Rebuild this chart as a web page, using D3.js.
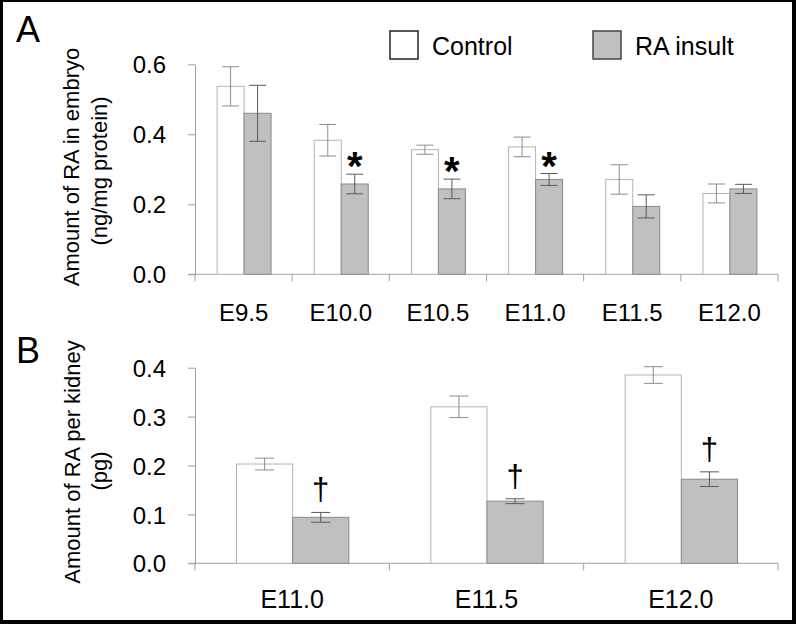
<!DOCTYPE html>
<html><head><meta charset="utf-8">
<script src="https://cdn.jsdelivr.net/npm/d3@7"></script>
<style>body{margin:0;background:#fff}svg text{font-family:"Liberation Sans",Arial,sans-serif;fill:#000}</style>
</head><body>
<svg id="c" width="796" height="624"></svg>
<script>
// Panel A data
const catsA = ["E9.5","E10.0","E10.5","E11.0","E11.5","E12.0"];
const controlA = [0.537,0.383,0.356,0.364,0.271,0.231];
const controlErrA = [0.056,0.045,0.013,0.028,0.042,0.027];
const raA = [0.460,0.258,0.244,0.271,0.194,0.244];
const raErrA = [0.080,0.028,0.028,0.017,0.033,0.013];
const sigA = ["","*","*","*","",""];
const ticksA = [0.0,0.2,0.4,0.6];
// Panel B data
const catsB = ["E11.0","E11.5","E12.0"];
const controlB = [0.203,0.320,0.385];
const controlErrB = [0.012,0.022,0.017];
const raB = [0.094,0.127,0.172];
const raErrB = [0.010,0.005,0.015];
const sigB = ["†","†","†"];
const ticksB = [0.0,0.1,0.2,0.3,0.4];
const series = ["Control","RA insult"];

const svg = d3.select("#c");
svg.append("rect").attr("x",0).attr("y",0).attr("width",796).attr("height",624).attr("fill","#000");
svg.append("rect").attr("x",3).attr("y",2).attr("width",789).attr("height",618).attr("fill","#fff");

const fill = {"Control":"#ffffff","RA insult":"#c0c0c0"};
const stroke = {"Control":"#b4b4b4","RA insult":"#8a8a8a"};
const errCol = {"Control":"#8c8c8c","RA insult":"#5a5a5a"};
const axisCol = "#a0a0a0";

function panel(o){
  const g = svg.append("g");
  const y = d3.scaleLinear().domain([0,o.max]).range([o.y0,o.y1]);
  const x = d3.scaleBand().domain(o.cats).range([195,778]);
  const x1 = d3.scaleBand().domain(series).range([0,x.bandwidth()]).paddingOuter(o.pad).paddingInner(0);
  const ya = d3.axisLeft(y).tickValues(o.ticks).tickFormat(d3.format(".1f")).tickSize(7).tickSizeOuter(0).tickPadding(22);
  const yg = g.append("g").attr("transform","translate(195,0)").call(ya);
  yg.select(".domain").attr("stroke",axisCol);
  yg.selectAll(".tick line").attr("stroke",axisCol);
  yg.selectAll(".tick text").attr("font-size",24).attr("font-family","Liberation Sans, Arial, sans-serif").attr("dy","0.36em");
  const bounds = o.cats.map(c=>x(c)).concat([x.range()[1]]);
  g.append("line").attr("x1",188).attr("x2",x.range()[1]).attr("y1",o.y0).attr("y2",o.y0).attr("stroke",axisCol);
  g.selectAll(".xt").data(bounds).join("line").attr("x1",d=>d).attr("x2",d=>d).attr("y1",o.y0).attr("y2",o.y0+7).attr("stroke",axisCol);
  g.selectAll(".xl").data(o.cats).join("text").attr("x",d=>x(d)+x.bandwidth()/2).attr("y",o.labY)
    .attr("text-anchor","middle").attr("font-size",o.labFs).text(d=>d);
  const rows = o.cats.map((c,i)=>[
    {c, s:"Control", v:o.ctl[i], e:o.ctlE[i]},
    {c, s:"RA insult", v:o.ra[i], e:o.raE[i]}
  ]).flat();
  g.selectAll(".bar").data(rows).join("rect")
    .attr("x",d=>x(d.c)+x1(d.s)+0.5).attr("width",x1.bandwidth())
    .attr("y",d=>y(d.v)).attr("height",d=>y(0)-y(d.v))
    .attr("fill",d=>fill[d.s]).attr("stroke",d=>stroke[d.s]).attr("stroke-width",1);
  const cap = o.cap;
  rows.forEach(d=>{
    const cx = x(d.c)+x1(d.s)+x1.bandwidth()/2+0.5;
    g.append("line").attr("x1",cx).attr("x2",cx).attr("y1",y(d.v+d.e)).attr("y2",y(d.v-d.e)).attr("stroke",errCol[d.s]);
    [d.v+d.e,d.v-d.e].forEach(v=>g.append("line").attr("x1",cx-cap).attr("x2",cx+cap).attr("y1",y(v)).attr("y2",y(v)).attr("stroke",errCol[d.s]));
  });
  o.cats.forEach((c,i)=>{
    if(!o.sig[i]) return;
    const cx = x(c)+x1("RA insult")+x1.bandwidth()/2+0.5;
    g.append("text").attr("x",cx).attr("y",y(o.ra[i]+o.raE[i])+o.sigDy)
      .attr("text-anchor","middle").attr("font-size",o.sigFs).attr("font-weight",o.sigW).text(o.sig[i]);
  });
  g.append("text").attr("x",16).attr("y",o.letterY).attr("font-size",36).text(o.letter);
  o.title.forEach((t,j)=>{
    g.append("text").attr("transform",`translate(${t.bx},${t.cy}) rotate(-90)`)
      .attr("text-anchor","middle").attr("font-size",22).text(t.s);
  });
}

panel({cats:catsA, ctl:controlA, ctlE:controlErrA, ra:raA, raE:raErrA, sig:sigA, ticks:ticksA,
  max:0.6, y0:274.3, y1:64.3, pad:0.8, cap:8.5, labY:321, labFs:24, sigDy:6, sigFs:40, sigW:"bold",
  letter:"A", letterY:42,
  title:[{s:"Amount of RA in embryo",bx:79,cy:167},{s:"(ng/mg protein)",bx:107,cy:171}]});
panel({cats:catsB, ctl:controlB, ctlE:controlErrB, ra:raB, raE:raErrB, sig:sigB, ticks:ticksB,
  max:0.4, y0:563.3, y1:367.7, pad:0.73, cap:9.5, labY:608, labFs:25, sigDy:-12, sigFs:31, sigW:"normal",
  letter:"B", letterY:363,
  title:[{s:"Amount of RA per kidney",bx:80,cy:462},{s:"(pg)",bx:107,cy:471}]});

const leg = svg.append("g");
const legX = [390, 593];
series.forEach((s,i)=>{
  leg.append("rect").attr("x",legX[i]).attr("y",31).attr("width",28).attr("height",28)
    .attr("fill",fill[s]).attr("stroke",i===0?"#222":"#444").attr("stroke-width",1.5);
  leg.append("text").attr("x",legX[i]+42).attr("y",54.5).attr("font-size",25).text(s);
});
</script>
</body></html>
